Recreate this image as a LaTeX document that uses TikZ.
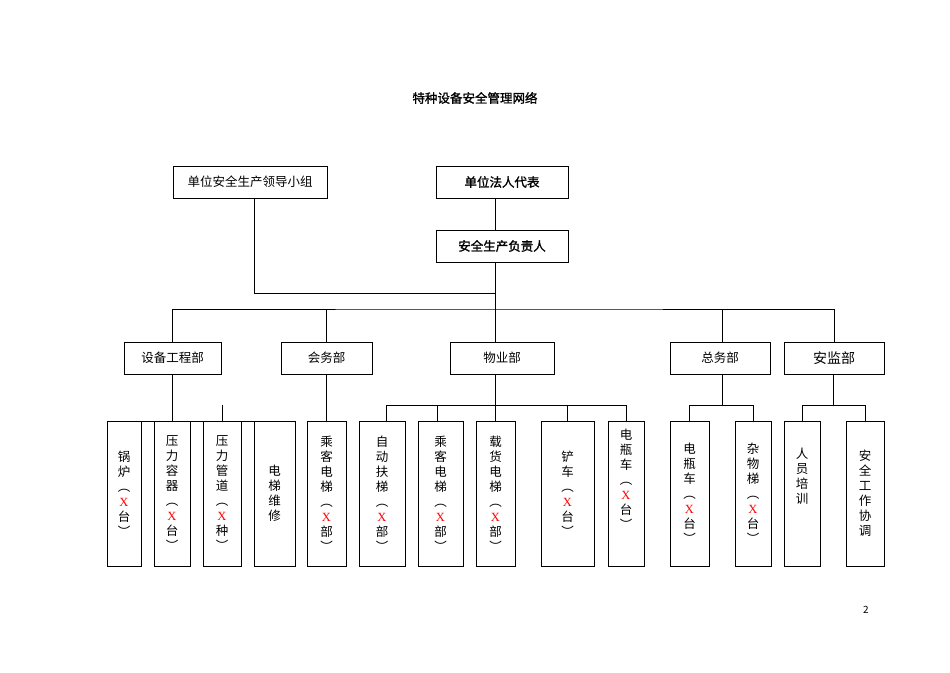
\documentclass[tikz,border=0pt]{standalone}
\usepackage{fontspec}
\setmainfont{Noto Sans CJK SC}[AutoFakeBold=1.5]
\newfontfamily\xf{Liberation Serif}
\newcommand{\rx}{{\xf\color{red}X}}
\begin{document}
\begin{tikzpicture}[x=1pt,y=-1pt,
  box/.style={draw,thin,inner sep=0pt,font=\fontsize{12.5}{15}\selectfont},
  topbox/.style={box,minimum height=32},
  bbox/.style={box,minimum height=145,align=center},
  ln/.style={draw,thin}]
\useasboundingbox (0,0) rectangle (950,672);
\node[font=\bfseries\fontsize{12.5}{15}\selectfont] (title) at (475,98) {特种设备安全管理网络};
\node[topbox,minimum width=154] (lead) at (250,182) {单位安全生产领导小组};
\node[topbox,minimum width=132,font=\bfseries\fontsize{12.5}{15}\selectfont] (fr) at (502,182) {单位法人代表};
\node[topbox,minimum width=132,font=\bfseries\fontsize{12.5}{15}\selectfont] (fz) at (502,246) {安全生产负责人};
\node[topbox,minimum width=97] (d1) at (172.5,358) {设备工程部};
\node[topbox,minimum width=91] (d2) at (326.5,358) {会务部};
\node[topbox,minimum width=104] (d3) at (502,358) {物业部};
\node[topbox,minimum width=100] (d4) at (720,358) {总务部};
\node[topbox,minimum width=100,font=\fontsize{14}{16}\selectfont] (d5) at (834,358) {安监部};
\node[bbox,minimum width=34] (b1) at (124,493.5) {锅\\炉\\︵\\\rx\\台\\︶};
\node[bbox,minimum width=36] (b2) at (172,493.5) {压\\力\\容\\器\\︵\\\rx\\台\\︶};
\node[bbox,minimum width=38] (b3) at (222,493.5) {压\\力\\管\\道\\︵\\\rx\\种\\︶};
\node[bbox,minimum width=41] (b4) at (274.5,493.5) {电\\梯\\维\\修};
\node[bbox,minimum width=39] (b5) at (326.5,493.5) {乘\\客\\电\\梯\\︵\\\rx\\部\\︶};
\node[bbox,minimum width=46] (b6) at (382,493.5) {自\\动\\扶\\梯\\︵\\\rx\\部\\︶};
\node[bbox,minimum width=45] (b7) at (440.5,493.5) {乘\\客\\电\\梯\\︵\\\rx\\部\\︶};
\node[bbox,minimum width=39] (b8) at (495.5,493.5) {载\\货\\电\\梯\\︵\\\rx\\部\\︶};
\node[bbox,minimum width=53] (b9) at (567.5,493.5) {铲\\车\\︵\\\rx\\台\\︶};
\node[bbox,minimum width=36] (b10) at (626,493.5) {电\\瓶\\车\\︵\\\rx\\台\\︶\\[14pt]};
\node[bbox,minimum width=39] (b11) at (689.5,493.5) {电\\瓶\\车\\︵\\\rx\\台\\︶};
\node[bbox,minimum width=36] (b12) at (753,493.5) {杂\\物\\梯\\︵\\\rx\\台\\︶};
\node[bbox,minimum width=36] (b13) at (802,493.5) {人\\员\\培\\训\\[20pt]};
\node[bbox,minimum width=38] (b14) at (865,493.5) {安\\全\\工\\作\\协\\调};
\node[font=\fontsize{10}{12}\selectfont] (pg) at (866,610) {2};
\coordinate (hub) at (495,309);
\coordinate (lj) at (495,293);
\coordinate (r) at (0,405);
\draw[ln] (fr.south -| hub) -- (fz.north -| hub);
\draw[ln] (fz.south -| hub) -- (hub);
\draw[ln] (lead.south -| 254,0) |- (lj);
\draw[ln] (d1.north) |- (hub) -| (d5.north);
\draw[ln] (d2.north) -- (d2.north |- hub);
\draw[ln] (d3.north -| hub) -- (hub);
\draw[ln] (d4.north -| 722,0) -- (722,309);
\draw[ln] (d1.south) -- (d1.south |- r);
\draw[ln] (b1.north) |- (b4.north -| 267,0 |- r) -- (b4.north -| 267,0);
\draw[ln] (b2.north) -- (b2.north |- r);
\draw[ln] (b3.north) -- (b3.north |- r);
\draw[ln] (d2.south) -- (b5.north);
\draw[ln] (d3.south -| hub) -- (hub |- r);
\draw[ln] (b6.north -| 386,0) |- (b10.north |- r) -- (b10.north);
\draw[ln] (b7.north -| 437,0) -- (437,405);
\draw[ln] (b8.north -| hub) -- (hub |- r);
\draw[ln] (b9.north) -- (b9.north |- r);
\draw[ln] (d4.south -| 722,0) -- (722,405);
\draw[ln] (b11.north) |- (b12.north |- r) -- (b12.north);
\draw[ln] (d5.south -| 833,0) -- (833,405);
\draw[ln] (b13.north) |- (b14.north |- r) -- (b14.north);
\end{tikzpicture}
\end{document}
